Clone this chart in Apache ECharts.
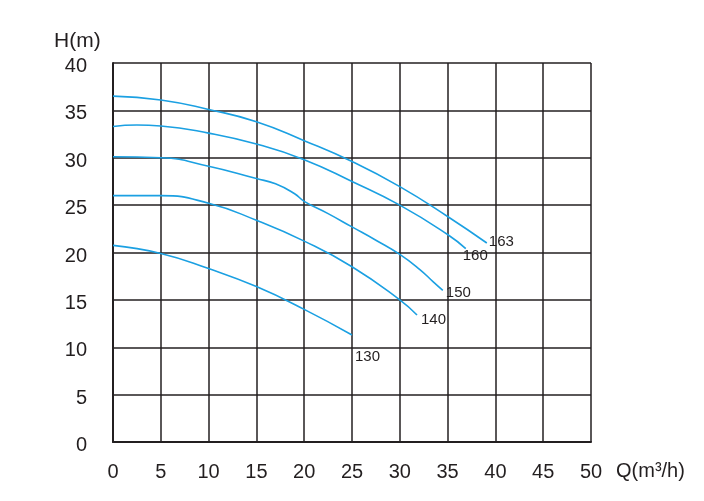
<!DOCTYPE html>
<html>
<head>
<meta charset="utf-8">
<script src="https://cdn.jsdelivr.net/npm/echarts@6/dist/echarts.min.js"></script>
<style>
  html, body { margin: 0; padding: 0; background: #fff; }
  #chart { width: 704px; height: 501px; }
</style>
</head>
<body>
<div id="chart"></div>
<script>
// pump curves, Q (m3/h) vs H (m), one pair of arrays per impeller
const q163 = [0, 5, 10, 15, 20, 25, 30, 35, 39.1];
const h163 = [36.5, 36.1, 35.1, 33.8, 31.8, 29.6, 26.95, 23.8, 21.0];
const q160 = [0, 2.5, 5, 10, 15, 20, 25, 30, 35, 36.9];
const h160 = [33.3, 33.45, 33.35, 32.6, 31.45, 29.8, 27.5, 25.0, 21.9, 20.4];
const q150 = [0, 5, 10, 15, 17, 19, 20, 22.5, 25, 27.5, 30, 32.1, 33.5, 34.5];
const h150 = [30.1, 30.0, 29.1, 27.8, 27.25, 26.2, 25.4, 24.1, 22.7, 21.3, 19.8, 18.2, 16.9, 16.0];
const q140 = [0, 5, 10, 15, 20, 25, 30, 31.8];
const h140 = [26.0, 26.0, 25.2, 23.4, 21.2, 18.5, 15.0, 13.4];
const q130 = [0, 5, 10, 15, 20, 25];
const h130 = [20.75, 19.9, 18.3, 16.4, 14.0, 11.3];

const curveNames = ['163', '160', '150', '140', '130'];
const curveQ = [q163, q160, q150, q140, q130];
const curveH = [h163, h160, h150, h140, h130];
// where each end label sits relative to the curve end
const labelOffsets = [[2, -1], [-3, 7], [3, 2], [4, 5], [3, 22]];

const lineColor = '#1ba0e2';
const gridColor = '#231f20';
const font = '"Liberation Sans", Arial, sans-serif';

let chart = echarts.init(document.getElementById('chart'));

let series = curveNames.map(function (name, i) {
    return {
        name: name,
        type: 'line',
        smooth: 0.5,
        showSymbol: false,
        lineStyle: { color: lineColor, width: 1.6 },
        data: curveQ[i].map(function (q, j) { return [q, curveH[i][j]]; }),
        endLabel: {
            show: true,
            formatter: name,
            distance: 0,
            offset: labelOffsets[i],
            color: '#231f20',
            fontSize: 15,
            fontFamily: font
        }
    };
});

let option = {
    animation: false,
    grid: { left: 113, right: 113, top: 63, bottom: 59 },
    xAxis: {
        type: 'value',
        min: 0,
        max: 50,
        interval: 5,
        axisLine: { show: true, lineStyle: { color: gridColor, width: 2 } },
        axisTick: { show: false },
        axisLabel: { color: '#231f20', fontSize: 20, fontFamily: font, margin: 20 },
        splitLine: { show: true, lineStyle: { color: gridColor, width: 1.5 } }
    },
    yAxis: {
        type: 'value',
        min: 0,
        max: 40,
        interval: 5,
        axisLine: { show: true, lineStyle: { color: gridColor, width: 2 } },
        axisTick: { show: false },
        axisLabel: {
            color: '#231f20', fontSize: 20, fontFamily: font, margin: 26,
            verticalAlign: 'top', lineHeight: 7
        },
        splitLine: { show: true, lineStyle: { color: gridColor, width: 1.5 } }
    },
    graphic: [
        {
            type: 'text',
            left: 54,
            top: 31,
            style: { text: 'H(m)', fill: '#231f20', font: '21px ' + font }
        },
        {
            type: 'text',
            left: 616,
            top: 461,
            style: { text: 'Q(m³/h)', fill: '#231f20', font: '20px ' + font }
        }
    ],
    series: series
};

chart.setOption(option);
</script>
</body>
</html>
